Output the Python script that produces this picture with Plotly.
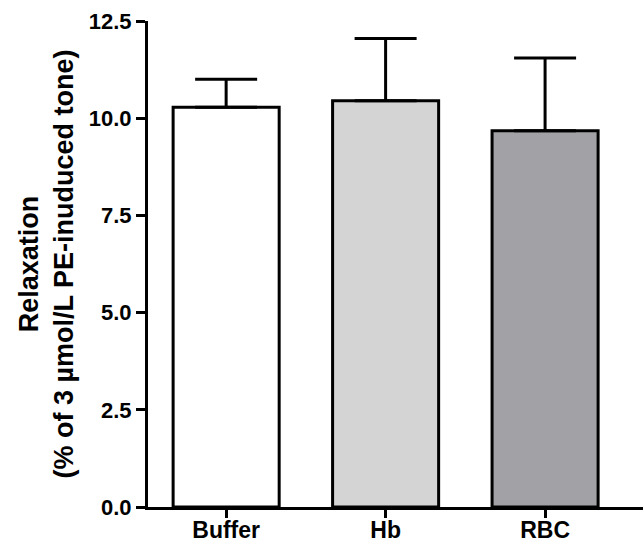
import plotly.graph_objects as go

# Relaxation responses per group (mean and upper SEM)
groups = ["Buffer", "Hb", "RBC"]
relaxation_mean = [10.28, 10.45, 9.68]
relaxation_sem = [0.72, 1.60, 1.87]
bar_colors = ["#ffffff", "#d4d4d4", "#a2a2a6"]
y_ticks = [0.0, 2.5, 5.0, 7.5, 10.0, 12.5]

font_family = "Liberation Sans, Arial, sans-serif"

fig = go.Figure(
    go.Bar(
        x=groups,
        y=relaxation_mean,
        width=0.665,
        marker=dict(color=bar_colors, line=dict(color="black", width=3)),
        error_y=dict(
            type="data",
            symmetric=False,
            array=relaxation_sem,
            arrayminus=[0] * len(relaxation_sem),
            color="black",
            thickness=3,
            width=31,
        ),
    )
)

fig.update_layout(
    width=643,
    height=543,
    margin=dict(l=148, r=0, t=21, b=36),
    plot_bgcolor="white",
    paper_bgcolor="white",
    showlegend=False,
    font=dict(family=font_family, color="black"),
)

fig.update_xaxes(
    range=[-0.49, 2.614],
    automargin=False,
    showline=True,
    linecolor="black",
    linewidth=3,
    ticks="outside",
    ticklen=8,
    tickwidth=3,
    tickcolor="black",
    ticklabelstandoff=-8,
    tickfont=dict(family=font_family, size=23, color="black", weight="bold"),
    showgrid=False,
    zeroline=False,
)

fig.update_yaxes(
    range=[0, 12.5],
    automargin=False,
    tickvals=y_ticks,
    ticktext=[f"{v:.1f}" for v in y_ticks],
    ticksuffix=" ",
    showline=True,
    linecolor="black",
    linewidth=3,
    ticks="outside",
    ticklen=9,
    tickwidth=3,
    tickcolor="black",
    tickfont=dict(family=font_family, size=22, color="black", weight="bold"),
    showgrid=False,
    zeroline=False,
    title=dict(
        text="Relaxation<br>(% of 3 µmol/L PE-inuduced tone)",
        font=dict(family=font_family, size=27, color="black", weight="bold"),
        standoff=8,
    ),
)

fig.write_html("out.html")
